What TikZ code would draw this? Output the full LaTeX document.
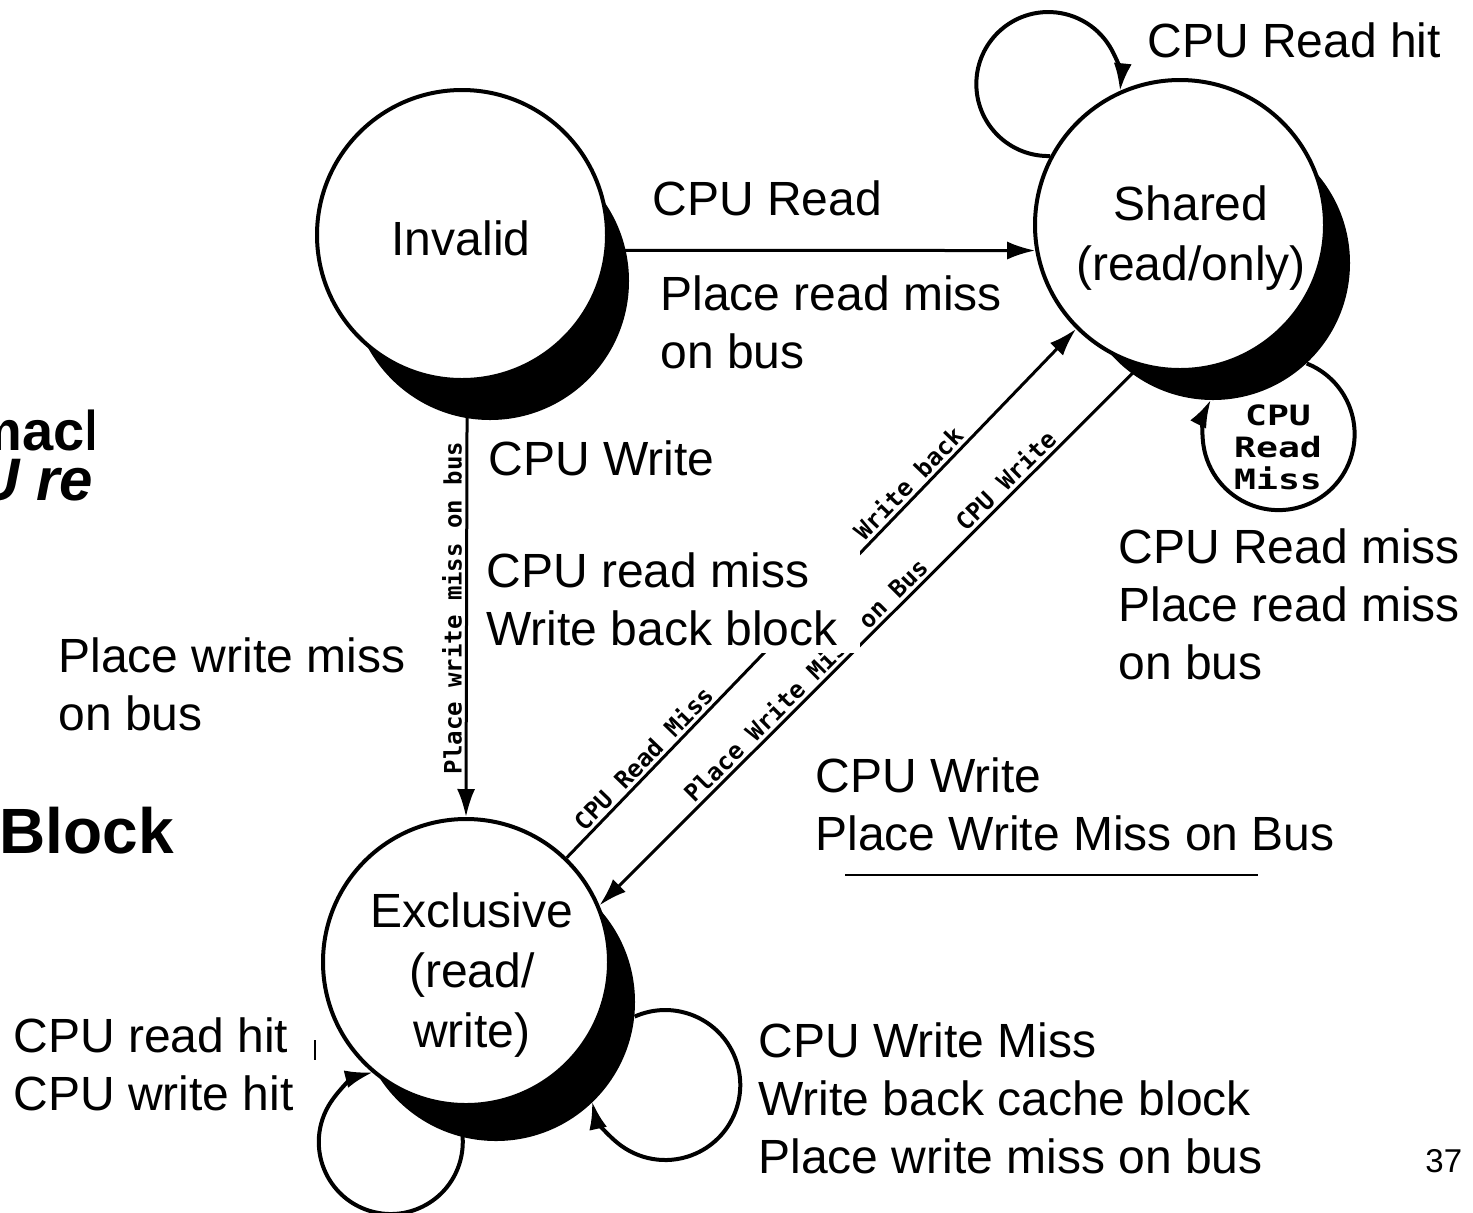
\documentclass[tikz,border=0pt]{standalone}
\usepackage{fontspec}
\setmainfont{Liberation Sans}
\newfontfamily\pixfont{DejaVu Sans Mono}
\newfontfamily\pixwide{DejaVu Sans Mono}[FakeStretch=1.3]
\usetikzlibrary{calc, arrows.meta}

\begin{document}
\begin{tikzpicture}[x=0.5pt, y=-0.5pt, >={Latex[length=14pt,width=9pt]}]
    % states and their shadows
    \tikzstyle{st}=[circle, draw, line width=2pt, fill=white, minimum size=145pt, inner sep=0]
    \tikzstyle{blot}=[circle, fill=black, inner sep=0]
    \tikzstyle{statename}=[inner sep=0, anchor=base, align=center, font=\fontsize{24}{30}\selectfont]
    % labels (anchored on the baseline of their last line)
    \tikzstyle{lbl}=[inner sep=0, anchor=base west, align=left, font=\fontsize{24}{29}\selectfont]
    \tikzstyle{pix}=[inner sep=1.5pt, font=\pixfont\bfseries\fontsize{12}{12}\selectfont]
    \tikzstyle{bgtxt}=[inner sep=0, anchor=base west, font=\bfseries\fontsize{28}{28}\selectfont]
    \tikzstyle{link}=[line width=1.5pt]
    \tikzstyle{loopln}=[line width=2pt]
    \fill[white] (0,0) rectangle (1473,1212);
    \useasboundingbox (0,0) rectangle (1473,1212);
    % slide text behind the figure
    \begin{scope}
        \clip (0,380) rectangle (93,520);
        \node[bgtxt] (mach) at (-28,450) {mach};
        \node[bgtxt, font=\bfseries\itshape\fontsize{30}{30}\selectfont] (cpure) at (-24,500) {U re};
    \end{scope}
    \node[bgtxt, font=\bfseries\fontsize{32}{32}\selectfont] (blk) at (-1,853) {Block};
    % shadows
    \node[blot, minimum size=139pt] (invS) at (490,281) {};
    \node[blot, minimum size=137pt] (shS) at (1213,263) {};
    \node[blot, minimum size=139pt] (excS) at (496,1002) {};
    % states
    \node[st] (inv) at (462,235) {};
    \node[st] (sh) at (1180,225) {};
    \node[st, minimum size=143pt] (exc) at (466,962) {};
    \node[statename] (invN) at (461,255) {Invalid};
    \node[statename] (shN) at (1191,280) {Shared\\(read/only)};
    \node[statename] (excN) at (472,1047) {Exclusive\\(read/\\write)};
    % transitions
    \draw[link, ->] (inv.-6) -- (sh.190);
    \draw[link, ->] (inv.-88) -- (exc.north)
        node[pix, pos=.52, rotate=90, anchor=south] (t1) {Place write miss on bus};
    \draw[link, ->] (exc.46) -- (sh.225)
        node[pix, pos=.17, sloped, above] (t2) {CPU Read Miss}
        node[pix, pos=.69, sloped, above] (t3) {Write back};
    \draw[link, ->] (sh.254) -- (exc.23)
        node[pix, pos=.23, sloped, above] (t4) {CPU Write}
        node[pix, pos=.6, sloped, above] (t5) {Place Write Miss on Bus};
    % loops
    \draw[loopln, ->] (sh.152) arc[start angle=88.5, end angle=365.8, radius=72];
    \draw[loopln, ->] (shS.-47.5) arc[start angle=-68.3, end angle=207.1, radius=76];
    \draw[loopln, ->] (exc.265) arc[start angle=-29.6, end angle=255.8, radius=72];
    \draw[loopln, ->] (excS.-6.8) arc[start angle=-114.1, end angle=167.5, radius=75];
    \node[pix, font=\pixwide\bfseries\fontsize{14}{16}\selectfont, align=center] (rm) at (1278,447) {CPU\\Read\\Miss};
    % transition labels
    \node[lbl] (rdhit) at (1147,57) {CPU Read hit};
    \node[lbl] (rd) at (652,215) {CPU Read};
    \node[lbl] (rdmiss) at (660,368) {Place read miss\\on bus};
    \node[lbl] (wr) at (488,475) {CPU Write};
    \node[lbl, fill=white, inner ysep=4pt] (wrback) at (486,645) {CPU read miss\\Write back block\hspace*{11pt}};
    \node[lbl] (shmiss) at (1118,679) {CPU Read miss\\Place read miss\\on bus};
    \node[lbl] (wrmiss) at (58,730) {Place write miss\\on bus};
    \node[lbl] (shwr) at (815,850) {CPU Write\\Place Write Miss on Bus};
    \node[lbl] (hits) at (13,1110) {CPU read hit\\CPU write hit};
    \node[lbl] (excmiss) at (758,1173) {CPU Write Miss\\Write back cache block\\Place write miss on bus};
    \node[lbl, font=\fontsize{16.5}{16.5}\selectfont] (page) at (1425,1172) {37};
    % stray marks
    \draw[line width=0.6pt] (845,875) -- (1258,875);
    \draw[line width=0.8pt] (315,1040) -- (315,1060);
\end{tikzpicture}
\end{document}
